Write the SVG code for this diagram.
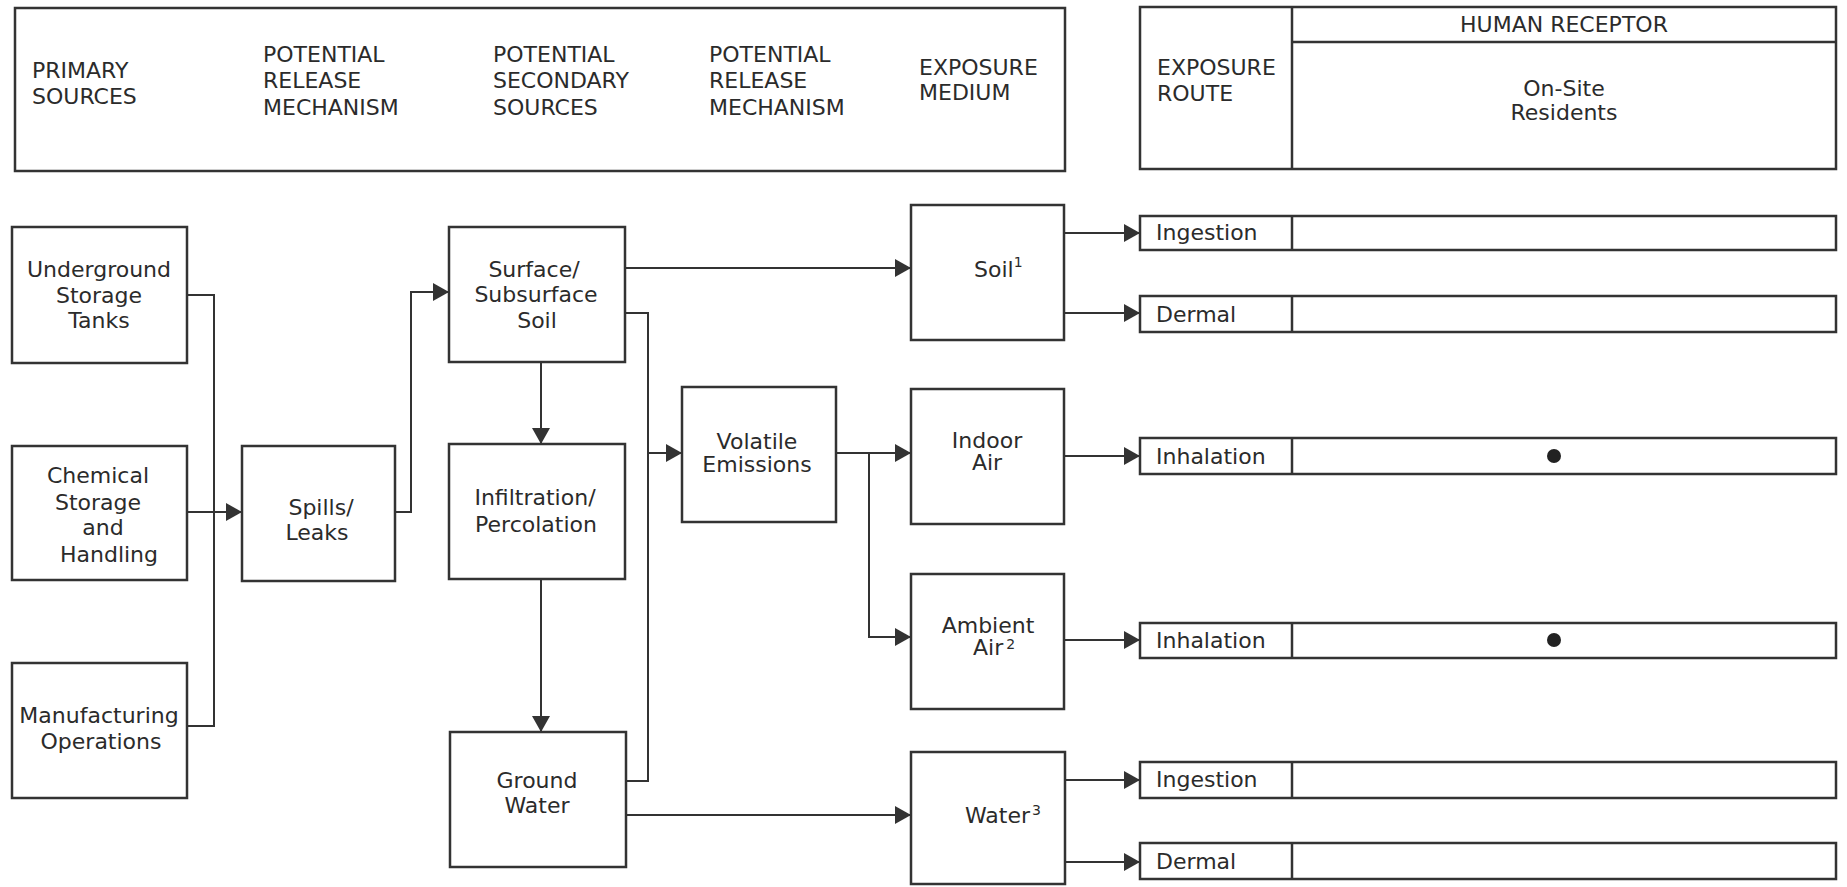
<svg xmlns="http://www.w3.org/2000/svg" width="1847" height="887" viewBox="0 0 1847 887">
<style>
  .bx { fill: #fff; stroke: #333; stroke-width: 2.5; }
  .ln { fill: none; stroke: #333; stroke-width: 2; }
  .ar { fill: none; stroke: #333; stroke-width: 2; marker-end: url(#arr); }
  text { font-family: "DejaVu Sans", "Liberation Sans", sans-serif; font-size: 22px; fill: #2b2b2b; }
  .c { text-anchor: middle; }
  .sup { font-size: 14px; }
</style>
<defs>
  <marker id="arr" markerUnits="userSpaceOnUse" markerWidth="16" markerHeight="20" refX="16" refY="10" orient="auto" viewBox="0 0 16 20">
    <path d="M0,1 L16,10 L0,19 z" fill="#333"/>
  </marker>
</defs>
<rect width="1847" height="887" fill="#fff"/>

<g id="header-left">
  <rect class="bx" x="15" y="8" width="1050" height="163"/>
  <text x="32" y="78">PRIMARY</text>
  <text x="32" y="104">SOURCES</text>
  <text x="263" y="62">POTENTIAL</text>
  <text x="263" y="88">RELEASE</text>
  <text x="263" y="115">MECHANISM</text>
  <text x="493" y="62">POTENTIAL</text>
  <text x="493" y="88">SECONDARY</text>
  <text x="493" y="115">SOURCES</text>
  <text x="709" y="62">POTENTIAL</text>
  <text x="709" y="88">RELEASE</text>
  <text x="709" y="115">MECHANISM</text>
  <text x="919" y="75">EXPOSURE</text>
  <text x="919" y="100">MEDIUM</text>
</g>

<g id="header-right">
  <rect class="bx" x="1140" y="7" width="696" height="162"/>
  <line class="ln" x1="1292" y1="7" x2="1292" y2="169" style="stroke-width:2.5"/>
  <line class="ln" x1="1292" y1="42" x2="1836" y2="42" style="stroke-width:2.5"/>
  <text x="1157" y="75">EXPOSURE</text>
  <text x="1157" y="101">ROUTE</text>
  <text class="c" x="1564" y="32">HUMAN RECEPTOR</text>
  <text class="c" x="1564" y="96">On-Site</text>
  <text class="c" x="1564" y="120">Residents</text>
</g>

<g id="connectors">
  <path class="ln" d="M187,295 H214 V726 H187"/>
  <path class="ar" d="M187,512 H242"/>
  <path class="ar" d="M395,512 H411 V292 H449"/>
  <path class="ar" d="M625,268 H911"/>
  <path class="ln" d="M625,313 H648 V781 H626"/>
  <path class="ar" d="M648,453 H682"/>
  <path class="ar" d="M541,362 V444"/>
  <path class="ar" d="M541,579 V732"/>
  <path class="ar" d="M626,815 H911"/>
  <path class="ar" d="M836,453 H911"/>
  <path class="ar" d="M869,453 V637 H911"/>
  <path class="ar" d="M1064,233 H1140"/>
  <path class="ar" d="M1064,313 H1140"/>
  <path class="ar" d="M1064,456 H1140"/>
  <path class="ar" d="M1064,640 H1140"/>
  <path class="ar" d="M1065,780 H1140"/>
  <path class="ar" d="M1065,862 H1140"/>
</g>

<g id="underground-storage-tanks">
  <rect class="bx" x="12" y="227" width="175" height="136"/>
  <text class="c" x="99" y="277">Underground</text>
  <text class="c" x="99" y="303">Storage</text>
  <text class="c" x="99" y="328">Tanks</text>
</g>
<g id="chemical-storage">
  <rect class="bx" x="12" y="446" width="175" height="134"/>
  <text class="c" x="98" y="483">Chemical</text>
  <text class="c" x="98" y="510">Storage</text>
  <text class="c" x="103" y="535">and</text>
  <text class="c" x="109" y="562">Handling</text>
</g>
<g id="manufacturing-operations">
  <rect class="bx" x="12" y="663" width="175" height="135"/>
  <text class="c" x="99" y="723">Manufacturing</text>
  <text class="c" x="101" y="749">Operations</text>
</g>
<g id="spills-leaks">
  <rect class="bx" x="242" y="446" width="153" height="135"/>
  <text class="c" x="321" y="515">Spills/</text>
  <text class="c" x="317" y="540">Leaks</text>
</g>
<g id="surface-subsurface-soil">
  <rect class="bx" x="449" y="227" width="176" height="135"/>
  <text class="c" x="534" y="277">Surface/</text>
  <text class="c" x="536" y="302">Subsurface</text>
  <text class="c" x="537" y="328">Soil</text>
</g>
<g id="infiltration-percolation">
  <rect class="bx" x="449" y="444" width="176" height="135"/>
  <text class="c" x="535" y="505">Infiltration/</text>
  <text class="c" x="536" y="532">Percolation</text>
</g>
<g id="ground-water">
  <rect class="bx" x="450" y="732" width="176" height="135"/>
  <text class="c" x="537" y="788">Ground</text>
  <text class="c" x="537" y="813">Water</text>
</g>
<g id="volatile-emissions">
  <rect class="bx" x="682" y="387" width="154" height="135"/>
  <text class="c" x="757" y="449">Volatile</text>
  <text class="c" x="757" y="472">Emissions</text>
</g>
<g id="soil">
  <rect class="bx" x="911" y="205" width="153" height="135"/>
  <text x="974" y="277">Soil<tspan class="sup" dy="-10">1</tspan></text>
</g>
<g id="indoor-air">
  <rect class="bx" x="911" y="389" width="153" height="135"/>
  <text class="c" x="987" y="448">Indoor</text>
  <text class="c" x="987" y="470">Air</text>
</g>
<g id="ambient-air">
  <rect class="bx" x="911" y="574" width="153" height="135"/>
  <text class="c" x="988" y="633">Ambient</text>
  <text x="973" y="655">Air<tspan class="sup" dx="3" dy="-6">2</tspan></text>
</g>
<g id="water">
  <rect class="bx" x="911" y="752" width="154" height="132"/>
  <text x="965" y="823">Water<tspan class="sup" dx="2" dy="-8">3</tspan></text>
</g>

<g id="route-soil-ingestion">
  <rect class="bx" x="1140" y="216" width="696" height="34"/>
  <line class="ln" x1="1292" y1="216" x2="1292" y2="250" style="stroke-width:2.5"/>
  <text x="1156" y="240">Ingestion</text>
</g>
<g id="route-soil-dermal">
  <rect class="bx" x="1140" y="296" width="696" height="36"/>
  <line class="ln" x1="1292" y1="296" x2="1292" y2="332" style="stroke-width:2.5"/>
  <text x="1156" y="322">Dermal</text>
</g>
<g id="route-indoor-inhalation">
  <rect class="bx" x="1140" y="438" width="696" height="36"/>
  <line class="ln" x1="1292" y1="438" x2="1292" y2="474" style="stroke-width:2.5"/>
  <text x="1156" y="464">Inhalation</text>
  <circle cx="1554" cy="456" r="7" fill="#222"/>
</g>
<g id="route-ambient-inhalation">
  <rect class="bx" x="1140" y="623" width="696" height="35"/>
  <line class="ln" x1="1292" y1="623" x2="1292" y2="658" style="stroke-width:2.5"/>
  <text x="1156" y="648">Inhalation</text>
  <circle cx="1554" cy="640" r="7" fill="#222"/>
</g>
<g id="route-water-ingestion">
  <rect class="bx" x="1140" y="762" width="696" height="36"/>
  <line class="ln" x1="1292" y1="762" x2="1292" y2="798" style="stroke-width:2.5"/>
  <text x="1156" y="787">Ingestion</text>
</g>
<g id="route-water-dermal">
  <rect class="bx" x="1140" y="843" width="696" height="36"/>
  <line class="ln" x1="1292" y1="843" x2="1292" y2="879" style="stroke-width:2.5"/>
  <text x="1156" y="869">Dermal</text>
</g>
</svg>
